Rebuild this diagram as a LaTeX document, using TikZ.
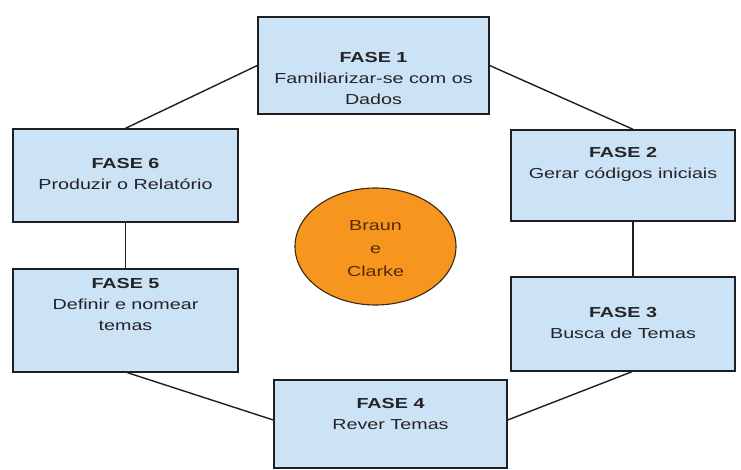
\documentclass[tikz,border=0pt]{standalone}
\usepackage{fontspec}
\setmainfont{Liberation Sans}[FakeStretch=1.36]
\usetikzlibrary{shapes.geometric}
\definecolor{boxfill}{RGB}{204,226,245}
\definecolor{boxline}{RGB}{30,30,35}
\definecolor{txt}{RGB}{35,35,40}
\definecolor{orfill}{RGB}{247,150,30}
\definecolor{orline}{RGB}{60,40,20}
\definecolor{ortxt}{RGB}{85,42,5}
\tikzset{
  fasebox/.style={draw=boxline, fill=boxfill, line width=1.4pt, inner sep=0pt},
  fasetxt/.style={anchor=north, inner sep=0pt, align=center, text=txt,
    font=\fontsize{14.5}{21}\selectfont},
  conn/.style={draw=boxline, line width=1.4pt},
}
\begin{document}
\begin{tikzpicture}[x=1pt,y=-1pt]
\useasboundingbox (0,0) rectangle (741,470);
% boxes
\node[fasebox, minimum width=231pt, minimum height=97pt] (b1) at (373.5,65.5) {};
\node[fasebox, minimum width=224pt, minimum height=91pt] (b2) at (623,175.5) {};
\node[fasebox, minimum width=224pt, minimum height=94pt] (b3) at (623,324) {};
\node[fasebox, minimum width=233pt, minimum height=88pt] (b4) at (390.5,424) {};
\node[fasebox, minimum width=225pt, minimum height=103pt] (b5) at (125.5,320.5) {};
\node[fasebox, minimum width=225pt, minimum height=93pt] (b6) at (125.5,175.5) {};
% centre ellipse
\node[ellipse, draw=orline, fill=orfill, line width=1.1pt, minimum width=161pt, minimum height=117pt, inner sep=0pt] (bc) at (375.5,246.5) {};
% texts
\node[fasetxt] (t1) at (373.5,52) {\textbf{FASE 1}\\Familiarizar-se com os\\Dados};
\node[fasetxt] (t2) at (623,147) {\textbf{FASE 2}\\Gerar códigos iniciais};
\node[fasetxt] (t3) at (623,307) {\textbf{FASE 3}\\Busca de Temas};
\node[fasetxt] (t4) at (390.5,398) {\textbf{FASE 4}\\Rever Temas};
\node[fasetxt] (t5) at (125.5,278) {\textbf{FASE 5}\\Definir e nomear\\temas};
\node[fasetxt] (t6) at (125.5,158) {\textbf{FASE 6}\\Produzir o Relatório};
\node[fasetxt, text=ortxt, font=\fontsize{14.5}{23}\selectfont] (tc) at (375.5,220) {Braun\\e\\Clarke};
% connectors
\draw[conn] (b1.west) -- (b6.north);
\draw[conn] (b1.east) -- ([xshift=10pt]b2.north);
\draw[conn] (b6.south) -- (b5.north);
\draw[conn] ([xshift=10pt]b2.south) -- ([xshift=10pt]b3.north);
\draw[conn] ([xshift=2pt]b5.south) -- ([yshift=4pt]b4.west);
\draw[conn] ([xshift=9pt]b3.south) -- ([yshift=4pt]b4.east);
\end{tikzpicture}
\end{document}
